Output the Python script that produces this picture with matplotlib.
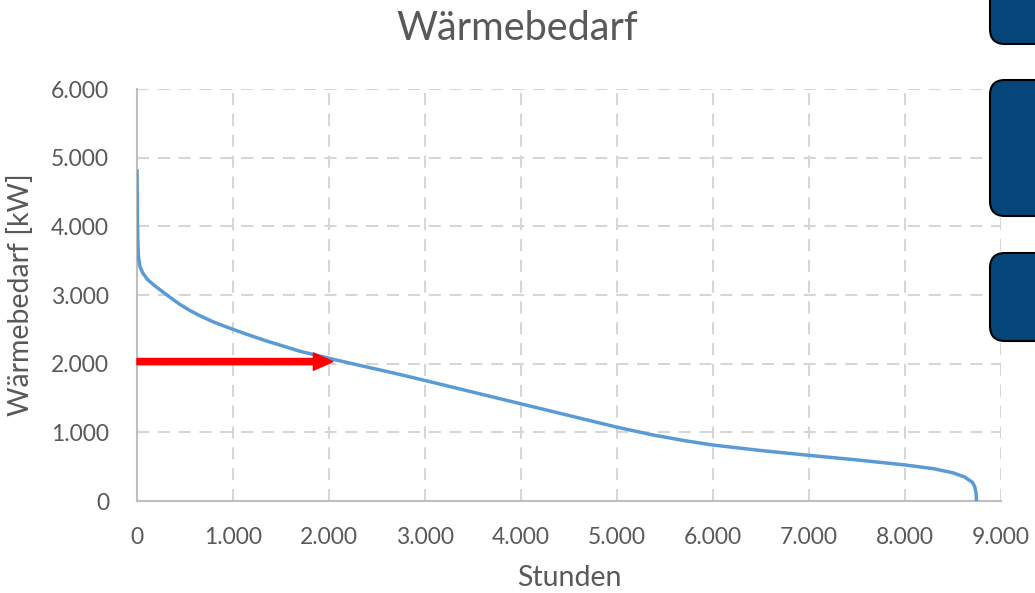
import matplotlib.pyplot as plt
from matplotlib.patches import FancyBboxPatch

# Jahresdauerlinie Wärmebedarf
stunden = [0, 3, 8, 15, 30, 60, 110, 180, 250, 350, 450, 550, 660, 800, 970,
           1150, 1350, 1700, 2040, 2320, 2700, 3000, 3500, 4000, 4520, 5000,
           5380, 5700, 6000, 6500, 7000, 7500, 8000, 8300, 8500, 8620, 8700,
           8725, 8740, 8745]
leistung = [4830, 4300, 3800, 3560, 3420, 3320, 3225, 3140, 3065, 2960, 2860,
            2775, 2695, 2605, 2515, 2425, 2330, 2180, 2065, 1975, 1855, 1755,
            1585, 1415, 1238, 1075, 960, 880, 815, 735, 665, 598, 525, 470,
            410, 350, 275, 215, 120, 0]

x_ticks = [0, 1000, 2000, 3000, 4000, 5000, 6000, 7000, 8000, 9000]
x_labels = ["0", "1.000", "2.000", "3.000", "4.000", "5.000", "6.000",
            "7.000", "8.000", "9.000"]
y_ticks = [0, 1000, 2000, 3000, 4000, 5000, 6000]
y_labels = ["0", "1.000", "2.000", "3.000", "4.000", "5.000", "6.000"]

# Pfeil bei 2.000 kW
pfeil_y = 2030
pfeil_x = [0, 2040]

plt.rcParams['font.family'] = ['Lato', 'DejaVu Sans']
grau = '#595959'

fig = plt.figure(figsize=(10.35, 5.93), dpi=100)
ax = fig.add_axes([137/1035, 1 - 501/593, 864/1035, 412/593])

ax.plot(stunden, leistung, color='#5b9bd5', lw=2.5, solid_capstyle='butt',
        solid_joinstyle='round', zorder=3)
ax.annotate('', xy=(pfeil_x[1], pfeil_y), xytext=(pfeil_x[0], pfeil_y),
            arrowprops=dict(arrowstyle='simple,head_length=1.4,head_width=1.25,tail_width=0.45',
                            color='#ff0000', shrinkA=0, shrinkB=0), zorder=4)

ax.set_xlim(0, 9000)
ax.set_ylim(0, 6000)
ax.set_xticks(x_ticks)
ax.set_xticklabels(x_labels)
ax.set_yticks(y_ticks)
ax.set_yticklabels(y_labels)
ax.tick_params(length=0, labelsize=16.5, labelcolor=grau)
ax.tick_params(axis='y', pad=20)
ax.tick_params(axis='x', pad=19)

ax.grid(True, color='#d6d6d6', lw=1.5, ls=(0, (5.8, 4.2)))
ax.set_axisbelow(True)
for s in ['top', 'right']:
    ax.spines[s].set_visible(False)
for s in ['left', 'bottom']:
    ax.spines[s].set_color('#bfbfbf')
    ax.spines[s].set_linewidth(1.5)

ax.set_xlabel('Stunden', fontsize=20.5, color=grau, labelpad=12)
ax.set_ylabel('Wärmebedarf [kW]', fontsize=20.5, color=grau, labelpad=12)
fig.text(0.5, 1 - 28/593, 'Wärmebedarf', ha='center', va='center',
         fontsize=28.5, color=grau)

# Kästen am rechten Rand (Pixelkoordinaten)
deko = fig.add_axes([0, 0, 1, 1], zorder=5)
deko.set_xlim(0, 1035)
deko.set_ylim(593, 0)
deko.axis('off')
for oben, unten in [(-30, 44), (80, 216), (253, 341)]:
    deko.add_patch(FancyBboxPatch((990, oben), 80, unten - oben,
                                  boxstyle='round,pad=0,rounding_size=15',
                                  fc='#05457a', ec='black', lw=1.5))

fig.savefig('out.png', dpi=100)
